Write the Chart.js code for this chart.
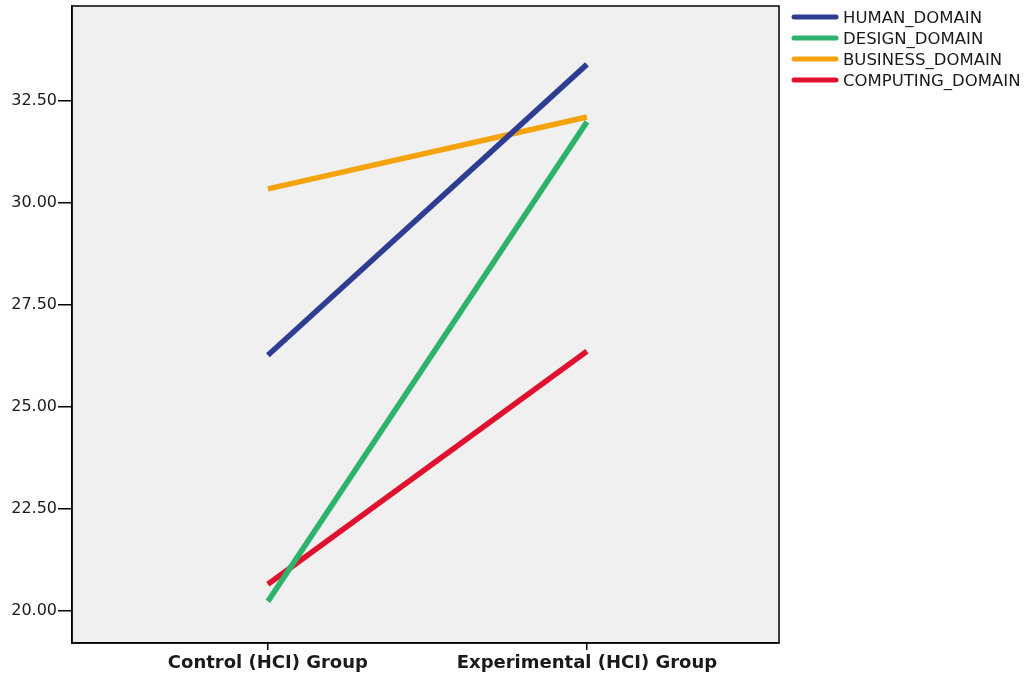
<!DOCTYPE html>
<html>
<head>
  <title>Domain Scores by Group</title>
  <style>
    body { margin: 0; background: #fff; }
    #wrap { width: 1032px; height: 677px; }
  </style>
</head>
<body>
  <div id="wrap"><canvas id="domainChart" width="1032" height="677"></canvas></div>

  <script src="https://cdn.jsdelivr.net/npm/chart.js"></script>
  <script>
    // groups on the x axis (positions 0 and 1)
    const groups = ['Control (HCI) Group', 'Experimental (HCI) Group'];
    const seriesNames = ['HUMAN_DOMAIN', 'DESIGN_DOMAIN', 'BUSINESS_DOMAIN', 'COMPUTING_DOMAIN'];
    const humanDomain = [26.27, 33.40];
    const designDomain = [20.24, 31.99];
    const businessDomain = [30.35, 32.11];
    const computingDomain = [20.66, 26.37];
    const yTicks = [20, 22.5, 25, 27.5, 30, 32.5];

    const seriesValues = [humanDomain, designDomain, businessDomain, computingDomain];
    const seriesColors = ['#2e3c92', '#2db36b', '#f4a30c', '#e0112e'];
    const fontFamily = '"DejaVu Sans", Arial, sans-serif';

    // plot background + frame, and the legend on the right
    const framePlugin = {
      id: 'frame',
      beforeDraw(chart) {
        const a = chart.chartArea;
        const ctx = chart.ctx;
        ctx.save();
        ctx.fillStyle = '#f0f0f0';
        ctx.fillRect(a.left, a.top, a.right - a.left, a.bottom - a.top);
        ctx.restore();
      },
      afterDraw(chart) {
        const a = chart.chartArea;
        const ctx = chart.ctx;
        ctx.save();
        ctx.strokeStyle = '#000';
        ctx.lineWidth = 1.5;
        ctx.strokeRect(a.left, a.top, a.right - a.left, a.bottom - a.top);

        chart.data.datasets.forEach((ds, i) => {
          const y = 17 + i * 21;
          ctx.strokeStyle = ds.borderColor;
          ctx.lineWidth = 5;
          ctx.lineCap = 'round';
          ctx.beginPath();
          ctx.moveTo(794, y);
          ctx.lineTo(836, y);
          ctx.stroke();
          ctx.fillStyle = '#1a1a1a';
          ctx.font = '16.5px ' + fontFamily;
          ctx.textBaseline = 'middle';
          ctx.fillText(ds.label, 843, y + 2);
        });
        ctx.restore();
      }
    };

    new Chart(document.getElementById('domainChart').getContext('2d'), {
      type: 'line',
      data: {
        datasets: seriesNames.map((name, i) => ({
          label: name,
          data: seriesValues[i].map((v, j) => ({ x: j, y: v })),
          borderColor: seriesColors[i],
          backgroundColor: seriesColors[i],
          borderWidth: 5.5,
          pointRadius: 0,
          borderCapStyle: 'butt',
          tension: 0
        }))
      },
      options: {
        responsive: false,
        animation: false,
        layout: { padding: { top: 6, right: 253, left: 0, bottom: 0 } },
        plugins: { legend: { display: false }, tooltip: { enabled: false } },
        scales: {
          x: {
            type: 'linear',
            min: -0.614,
            max: 1.602,
            afterBuildTicks(scale) {
              scale.ticks = groups.map((g, i) => ({ value: i }));
            },
            afterFit(scale) {
              scale.height = 34;
              scale.paddingLeft = 0;
              scale.paddingRight = 0;
            },
            grid: { drawOnChartArea: false, drawTicks: true, tickLength: 7, color: '#000', lineWidth: 1.5 },
            border: { display: true, color: '#000', width: 1.5 },
            ticks: {
              color: '#1a1a1a',
              padding: 3,
              maxRotation: 0,
              font: { family: fontFamily, size: 18, weight: 'bold' },
              callback: (v) => groups[v]
            }
          },
          y: {
            min: 19.22,
            max: 34.83,
            afterBuildTicks(scale) {
              scale.ticks = yTicks.map(v => ({ value: v }));
            },
            afterFit(scale) {
              scale.width = 72;
              scale.paddingTop = 0;
              scale.paddingBottom = 0;
            },
            grid: { drawOnChartArea: false, drawTicks: true, tickLength: 14, color: '#000', lineWidth: 1.5 },
            border: { display: true, color: '#000', width: 1.5 },
            ticks: {
              color: '#1a1a1a',
              padding: 1,
              font: { family: fontFamily, size: 16 },
              callback: (v) => Number(v).toFixed(2)
            }
          }
        }
      },
      plugins: [framePlugin]
    });
  </script>
</body>
</html>
